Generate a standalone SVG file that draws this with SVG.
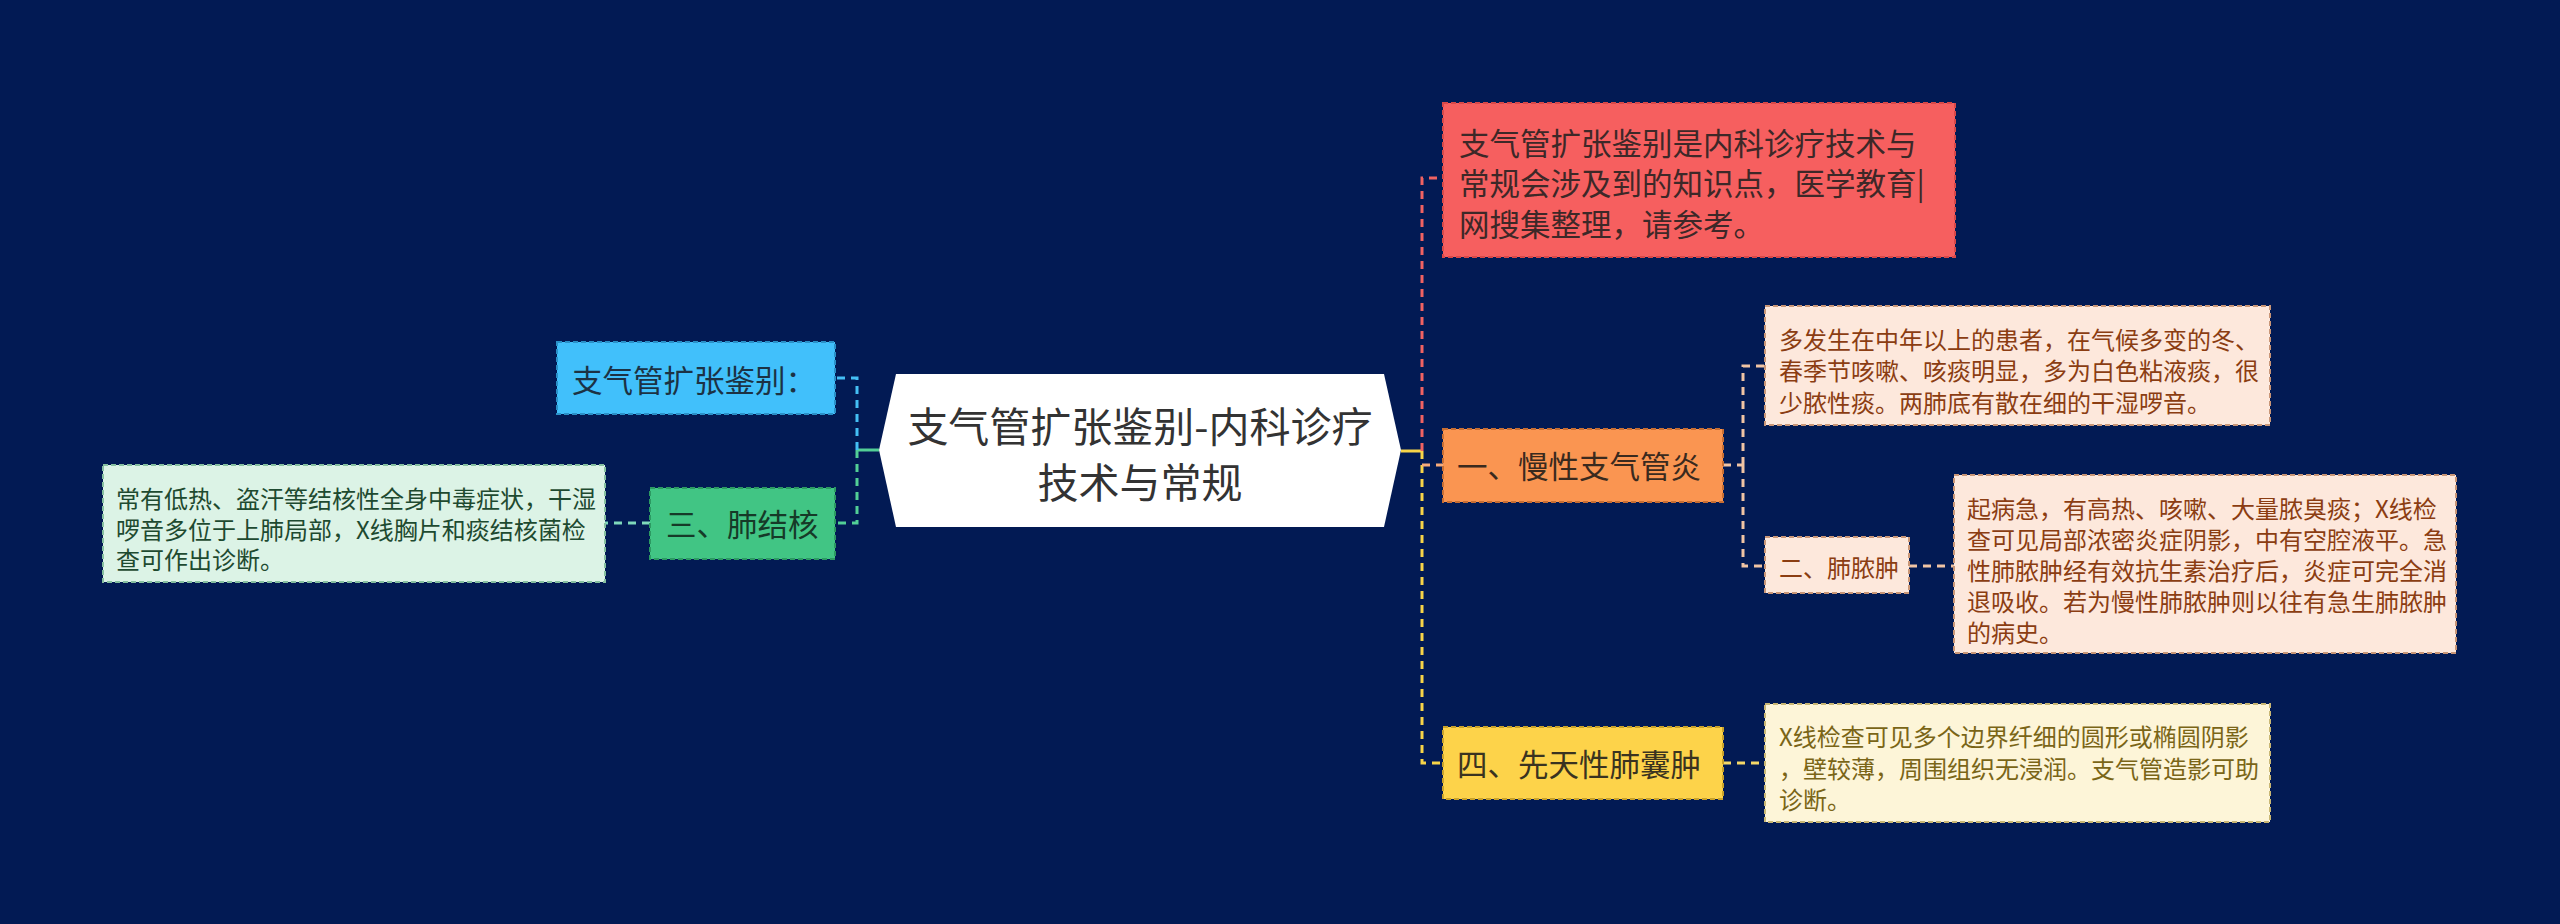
<svg xmlns="http://www.w3.org/2000/svg" width="2560" height="924" viewBox="0 0 2560 924">
<style>
text{font-family:"Noto Sans CJK SC","Noto Sans",sans-serif;dominant-baseline:central}
.t0{font-size:41px;fill:#333333}
.t1{font-size:30.5px}
.t2{font-size:24px}
.box{stroke-width:2;stroke-dasharray:5 3}
.c{fill:none;stroke-width:3;stroke-dasharray:8 6}
.s{fill:none;stroke-width:3}
</style>
<rect x="0" y="0" width="2560" height="924" fill="#021a54"/>
<g id="connectors">
<path class="s" d="M1401,451 H1422" stroke="#f7d448"/>
<path class="c" d="M1422,451 V178 H1443" stroke="#f06262"/>
<path class="c" d="M1422,451 V763 H1443" stroke="#f7d448"/>
<path class="c" d="M1422,465 H1443" stroke="#f7ab7a"/>
<path class="c" d="M1723,465 H1743 M1743,465 V366 H1765 M1743,465 V566 H1765" stroke="#f0c4a4"/>
<path class="c" d="M1909,566 H1954" stroke="#f0c4a4"/>
<path class="c" d="M1723,763 H1765" stroke="#f5d868"/>
<path class="s" d="M879,450 H857" stroke="#52cf96"/>
<path class="c" d="M857,450 V378 H835" stroke="#44bff5"/>
<path class="c" d="M857,450 V523 H835" stroke="#52cf96"/>
<path class="c" d="M650,523 H605" stroke="#7fd8bb"/>
</g>
<g id="root">
<polygon points="879,450 896,374 1384,374 1401,450 1384,527 896,527" fill="#ffffff"/>
<text class="t0" x="1140" y="424" text-anchor="middle">支气管扩张鉴别-内科诊疗</text>
<text class="t0" x="1140" y="480" text-anchor="middle">技术与常规</text>
</g>
<g id="intro">
<rect class="box" x="1443" y="103" width="512" height="154" fill="#f65f5f" stroke="#d84848"/>
<g class="t1" fill="#3d2828">
<text x="1459" y="142">支气管扩张鉴别是内科诊疗技术与</text>
<text x="1459" y="182">常规会涉及到的知识点，医学教育|</text>
<text x="1459" y="223">网搜集整理，请参考。</text>
</g>
</g>
<g id="n1">
<rect class="box" x="1443" y="429" width="280" height="73" fill="#fa9551" stroke="#c86e33"/>
<text class="t1" x="1457" y="465" fill="#3a2a1e">一、慢性支气管炎</text>
</g>
<g id="n1a">
<rect class="box" x="1765" y="306" width="505" height="119" fill="#fde8dc" stroke="#c99677"/>
<g class="t2" fill="#8b3d12">
<text x="1779" y="338">多发生在中年以上的患者，在气候多变的冬、</text>
<text x="1779" y="369.5">春季节咳嗽、咳痰明显，多为白色粘液痰，很</text>
<text x="1779" y="401">少脓性痰。两肺底有散在细的干湿啰音。</text>
</g>
</g>
<g id="n2">
<rect class="box" x="1765" y="537" width="144" height="56" fill="#fde8dc" stroke="#c99677"/>
<text class="t2" x="1779" y="566" fill="#8b3d12">二、肺脓肿</text>
</g>
<g id="n2a">
<rect class="box" x="1954" y="475" width="502" height="178" fill="#fde8dc" stroke="#c99677"/>
<g class="t2" fill="#8b3d12">
<text x="1967" y="507">起病急，有高热、咳嗽、大量脓臭痰；X线检</text>
<text x="1967" y="538">查可见局部浓密炎症阴影，中有空腔液平。急</text>
<text x="1967" y="569">性肺脓肿经有效抗生素治疗后，炎症可完全消</text>
<text x="1967" y="600">退吸收。若为慢性肺脓肿则以往有急生肺脓肿</text>
<text x="1967" y="631">的病史。</text>
</g>
</g>
<g id="n4">
<rect class="box" x="1443" y="727" width="280" height="72" fill="#fdd34a" stroke="#c9a22a"/>
<text class="t1" x="1457" y="763" fill="#3a3320">四、先天性肺囊肿</text>
</g>
<g id="n4a">
<rect class="box" x="1765" y="704" width="505" height="118" fill="#fdf5d8" stroke="#c9b774"/>
<g class="t2" fill="#7a6517">
<text x="1779" y="735">X线检查可见多个边界纤细的圆形或椭圆阴影</text>
<text x="1779" y="767">，壁较薄，周围组织无浸润。支气管造影可助</text>
<text x="1779" y="798">诊断。</text>
</g>
</g>
<g id="n0">
<rect class="box" x="557" y="342" width="278" height="72" fill="#41c0fb" stroke="#2a90c8"/>
<text class="t1" x="572" y="379" fill="#1c3244">支气管扩张鉴别：</text>
</g>
<g id="n3">
<rect class="box" x="650" y="488" width="185" height="71" fill="#41c584" stroke="#2c9a62"/>
<text class="t1" x="666" y="523" fill="#163a28">三、肺结核</text>
</g>
<g id="n3a">
<rect class="box" x="103" y="465" width="502" height="117" fill="#dcf3e6" stroke="#86bfa0"/>
<g class="t2" fill="#1e4a30">
<text x="116" y="497">常有低热、盗汗等结核性全身中毒症状，干湿</text>
<text x="116" y="528">啰音多位于上肺局部，X线胸片和痰结核菌检</text>
<text x="116" y="558">查可作出诊断。</text>
</g>
</g>
</svg>
